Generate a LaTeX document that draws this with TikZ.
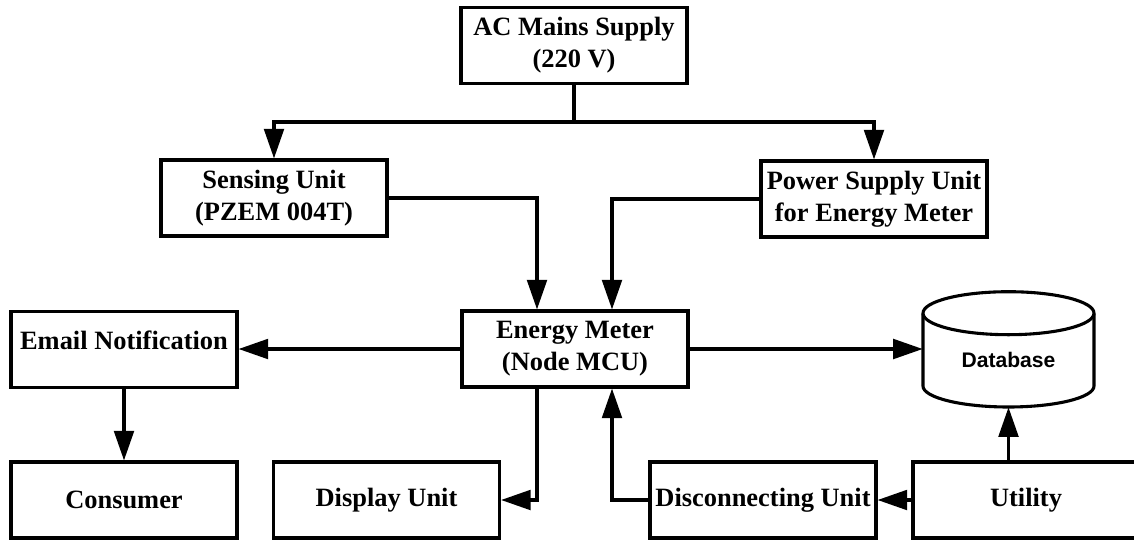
\documentclass[tikz,border=0pt]{standalone}
\usepackage{fontspec}
\setmainfont{Liberation Serif}
\newfontfamily\dbfont{Liberation Sans}
\usetikzlibrary{arrows.meta,calc}
\tikzset{
  blk/.style={draw,rectangle,minimum width=5.65cm,minimum height=1.9cm,line width=2.2pt,align=center,inner sep=0pt,font=\fontsize{18.8}{22.7}\selectfont\bfseries},
  topblk/.style={blk,text height=13pt,text depth=13pt},
  dblbl/.style={minimum width=4.275cm,minimum height=2.875cm,inner sep=0pt,text height=25pt,text depth=0pt,font=\dbfont\fontsize{15}{17}\selectfont\bfseries},
  wire/.style={line width=2.2pt},
  arr/.style={-{Triangle[length=21pt,width=14pt]},line width=2.2pt}
}
\begin{document}
\begin{tikzpicture}[x=0.025cm,y=0.025cm]
  \useasboundingbox (0,0) rectangle (1134,-541);
  \clip (0,0) rectangle (1134,-541);

  \node[blk] (mains) at (574,-45.5) {AC Mains Supply\\(220 V)};
  \node[blk] (sensing) at (274,-198) {Sensing Unit\\(PZEM 004T)};
  \node[blk] (psu) at (874,-199) {Power Supply Unit\\for Energy Meter};
  \node[blk] (meter) at (575,-349) {Energy Meter\\(Node MCU)};
  \node[topblk] (email) at (124,-349.5) {Email Notification};
  \node[blk] (consumer) at (124,-500) {Consumer};
  \node[blk] (display) at (386.5,-500) {Display Unit};
  \node[blk] (disc) at (763,-500) {Disconnecting Unit};
  \node[blk] (utility) at (1026,-500) {Utility};
  \node[dblbl] (db) at (1008.5,-349.5) {Database};

  % database cylinder
  \draw[wire] ($(db.north)+(0,-21.5)$) ellipse [x radius=85.5,y radius=21.5];
  \draw[wire] (923,-313.5) -- (923,-386) arc[start angle=180,end angle=360,x radius=85.5,y radius=21] -- (1094,-313.5);

  \coordinate (split) at (574,-122);
  \draw[wire] (mains.south) -- (split);
  \draw[arr] (split) -| (sensing.north);
  \draw[arr] (split) -| (psu.north);
  \draw[arr] (sensing.east) -| ($(meter.north)+(-38,0)$);
  \draw[arr] (psu.west) -| ($(meter.north)+(37,0)$);
  \draw[arr] (meter.west) -- (meter.west -| email.east);
  \draw[arr] (meter.east) -- (meter.east -| db.west);
  \draw[arr] (email.south) -- (consumer.north);
  \draw[arr] ($(meter.south)+(-38,0)$) |- (display.east);
  \draw[arr] (disc.west) -| ($(meter.south)+(37,0)$);
  \draw[arr] (utility.west) -- (disc.east);
  \draw[arr] (db.south |- utility.north) -- (db.south);
\end{tikzpicture}
\end{document}
